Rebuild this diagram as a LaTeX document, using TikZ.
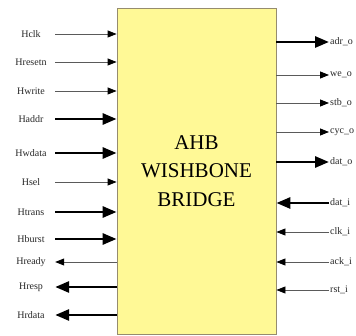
\documentclass[tikz,border=0pt]{standalone}
\usepackage{fontspec}
\setmainfont{Liberation Serif}
\usetikzlibrary{arrows.meta}
\definecolor{boxyellow}{RGB}{255,249,150}
\definecolor{boxedge}{RGB}{150,140,110}
\definecolor{sigline}{RGB}{90,90,90}
\tikzset{
  bridgebox/.style={draw=boxedge, fill=boxyellow, line width=0.8pt, align=center,
    minimum width=159pt, minimum height=326pt, inner sep=0pt,
    font=\fontsize{21}{28.5}\selectfont},
  inlabel/.style={minimum width=48pt, inner sep=0pt, align=center, text=black!85,
    font=\fontsize{10}{12}\selectfont},
  outlabel/.style={anchor=west, inner sep=1pt, text=black!85,
    font=\fontsize{10}{12}\selectfont},
  thinsig/.style={draw=sigline, line width=0.8pt, -{Triangle[length=9pt,width=7pt,color=black]}},
  thicksig/.style={draw=black, line width=2.8pt, -{Triangle[length=14pt,width=11pt]}}
}
\begin{document}
\begin{tikzpicture}[x=1pt, y=-1pt]
  \useasboundingbox (0,0) rectangle (356,336);
  % 桥接模块
  \node[bridgebox] (bridge) at (196.5,171) {AHB\\WISHBONE\\BRIDGE};
  % 左侧 AHB 信号
  \node[inlabel] (hclk) at (31,34) {Hclk};
  \node[inlabel] (hresetn) at (31,62) {Hresetn};
  \node[inlabel] (hwrite) at (31,91) {Hwrite};
  \node[inlabel] (haddr) at (31,119) {Haddr};
  \node[inlabel] (hwdata) at (31,153) {Hwdata};
  \node[inlabel] (hsel) at (31,182) {Hsel};
  \node[inlabel] (htrans) at (31,212) {Htrans};
  \node[inlabel] (hburst) at (31,239) {Hburst};
  \node[inlabel] (hready) at (31,262) {Hready};
  \node[inlabel] (hresp) at (31,287) {Hresp};
  \node[inlabel] (hrdata) at (31,315) {Hrdata};
  \draw[thinsig] (hclk.east) -- (hclk -| bridge.west);
  \draw[thinsig] (hresetn.east) -- (hresetn -| bridge.west);
  \draw[thinsig] (hwrite.east) -- (hwrite -| bridge.west);
  \draw[thicksig] (haddr.east) -- (haddr -| bridge.west);
  \draw[thicksig] (hwdata.east) -- (hwdata -| bridge.west);
  \draw[thinsig] (hsel.east) -- (hsel -| bridge.west);
  \draw[thicksig] (htrans.east) -- (htrans -| bridge.west);
  \draw[thicksig] (hburst.east) -- (hburst -| bridge.west);
  \draw[thinsig] (hready -| bridge.west) -- (hready.east);
  \draw[thicksig] (hresp -| bridge.west) -- (hresp.east);
  \draw[thicksig] (hrdata -| bridge.west) -- (hrdata.east);
  % 右侧 WISHBONE 信号
  \node[outlabel] (adro) at (329,42) {adr\_o};
  \node[outlabel] (weo) at (329,75) {we\_o};
  \node[outlabel] (stbo) at (329,103) {stb\_o};
  \node[outlabel] (cyco) at (329,132) {cyc\_o};
  \node[outlabel] (dato) at (329,162) {dat\_o};
  \node[outlabel] (dati) at (329,203) {dat\_i};
  \node[outlabel] (clki) at (329,232) {clk\_i};
  \node[outlabel] (acki) at (329,262) {ack\_i};
  \node[outlabel] (rsti) at (329,290) {rst\_i};
  \draw[thicksig] (adro -| bridge.east) -- (adro.west);
  \draw[thinsig] (weo -| bridge.east) -- (weo.west);
  \draw[thinsig] (stbo -| bridge.east) -- (stbo.west);
  \draw[thinsig] (cyco -| bridge.east) -- (cyco.west);
  \draw[thicksig] (dato -| bridge.east) -- (dato.west);
  \draw[thicksig] (dati.west) -- (dati -| bridge.east);
  \draw[thinsig] (clki.west) -- (clki -| bridge.east);
  \draw[thinsig] (acki.west) -- (acki -| bridge.east);
  \draw[thinsig] (rsti.west) -- (rsti -| bridge.east);
\end{tikzpicture}
\end{document}
